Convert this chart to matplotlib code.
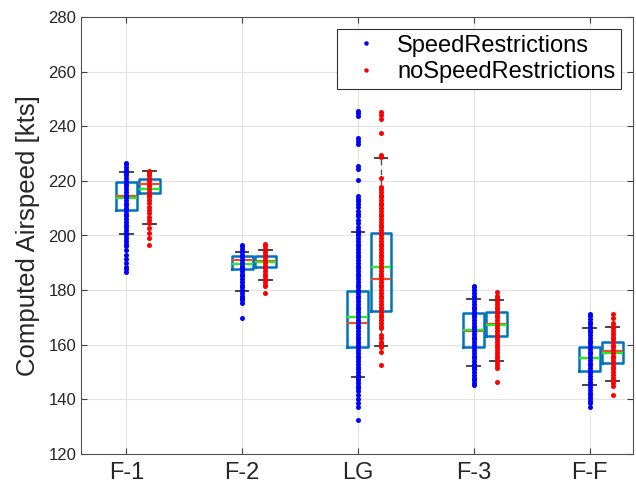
import matplotlib
matplotlib.use("Agg")
import matplotlib.pyplot as plt
import numpy as np

plt.rcParams['font.family'] = ['Liberation Sans', 'DejaVu Sans']

categories = ["F-1", "F-2", "LG", "F-3", "F-F"]
series_names = ["SpeedRestrictions", "noSpeedRestrictions"]

# Box statistics : SpeedRestrictions
sr_q1 = [209.3, 187.9, 159.3, 159.1, 150.5]
sr_q3 = [219.5, 192.5, 179.7, 171.5, 159.3]
sr_med = [214.6, 190.9, 167.9, 165.0, 155.0]
sr_mean = [213.7, 189.7, 170.3, 165.3, 155.2]
sr_lo = [200.6, 179.6, 148.3, 152.3, 145.3]
sr_hi = [223.3, 193.9, 201.2, 176.8, 166.2]

# noSpeedRestrictions
nsr_q1 = [215.7, 188.6, 172.3, 163.2, 153.2]
nsr_q3 = [220.8, 192.5, 201.0, 171.9, 161.1]
nsr_med = [219.0, 190.8, 184.0, 167.5, 157.7]
nsr_mean = [217.0, 190.2, 188.6, 167.1, 157.1]
nsr_lo = [204.2, 183.7, 159.7, 154.2, 146.8]
nsr_hi = [223.5, 194.7, 228.2, 176.4, 166.4]

# Raw points
F1_SR = [226.7, 226, 225, 224, 223, 222, 221, 220, 219, 218, 217, 216, 215, 214,
         213, 212, 211, 210, 209, 208, 207, 206, 205, 204, 203, 202, 201, 200,
         199, 198, 197, 196, 194.7, 192.9, 191.3, 189.8, 188.6, 187.7, 186.7]
F1_NSR = [223.7, 223, 222, 221, 220, 219, 218, 217, 216, 215, 214, 213, 211.8,
          210.6, 209.3, 208.1, 206.9, 205.7, 204.5, 202.6, 200.8, 199.0, 196.6]
F2_SR = [196.5, 196, 195, 194, 193, 192, 191, 190, 189, 188, 187, 186, 185, 184,
         183, 182, 181, 180, 179, 178, 177, 176.4, 175.4, 169.8]
F2_NSR = [196.9, 196, 195, 194, 193, 192, 191, 190, 189, 188, 187, 186, 185, 184,
          183, 182, 181.5, 178.8]
LG_SR = [245.7, 244.7, 243.9, 235.6, 234.6, 233.5, 225.5, 224.3, 220.3,
         214.5, 213.5, 212.5, 211.5, 210.5, 209, 208, 207, 205.5, 204.5, 203,
         202, 201, 200, 199, 198, 197, 196, 195, 194, 193, 192, 191, 190, 189,
         188, 187, 186, 185, 184, 183, 182, 181, 180, 179, 178, 177, 176, 175,
         174, 173, 172, 171, 170, 169, 168, 167, 166, 165, 164, 163, 162, 161,
         160, 159, 158, 157, 156, 155, 154, 153, 152, 151, 150, 149, 148, 147,
         146, 145, 144, 143, 141.5, 140, 138.5, 137.3, 132.4]
LG_NSR = [245.3, 244.1, 242.7, 237.4, 229.5, 228.6, 221.0,
          217.7, 217, 216, 215, 214, 213, 212, 211, 210, 209, 208, 207, 206,
          205, 204, 203, 202, 201, 200, 199, 198, 197, 196, 195, 194, 193, 192,
          191, 190, 189, 188, 187, 186, 185, 184, 183, 182, 181, 180, 179, 178,
          177, 176, 175, 174, 173, 172, 171, 170, 169, 168, 167, 166,
          163.5, 162.3, 161.1, 160.2, 159, 157.5, 152.6]
F3_SR = [181.5, 181, 180, 179, 178, 177, 176, 175, 174, 173, 172, 171, 170, 169,
         168, 167, 166, 165, 164, 163, 162, 161, 160, 159, 158, 157, 156, 155,
         154, 153, 152, 151, 150, 149, 148, 147, 146, 145.3]
F3_NSR = [179.2, 177.8, 177, 176, 175, 174, 173, 172, 171, 170, 169, 168, 167,
          166, 165, 164, 163, 162, 161, 160, 159, 158, 157, 156, 155, 154, 153,
          152, 151.4, 146.5]
FF_SR = [171.3, 170.5, 169.5, 168.5, 167.5, 166.5, 165.5, 164.5, 163.5, 162.5,
         161.5, 160.5, 159.5, 158.5, 157.5, 156.5, 155.5, 154.5, 153.5, 152.5,
         151.5, 150.5, 149.5, 148.5, 147.5, 146.5, 145.5, 144.5, 143.5, 142.5,
         141.5, 140.5, 139.5, 138.5, 137.3]
FF_NSR = [171.3, 169.7, 168.1, 167, 166, 165, 164, 163, 162, 161, 160, 159, 158,
          157, 156, 155, 154, 153, 152, 151, 150, 149, 148, 147, 146, 144.9,
          141.6]

sr_points = [F1_SR, F2_SR, LG_SR, F3_SR, FF_SR]
nsr_points = [F1_NSR, F2_NSR, LG_NSR, F3_NSR, FF_NSR]

fig = plt.figure(figsize=(6.36, 4.94), dpi=100)
ax = fig.add_axes([81/636, 1-454/494, (633-81)/636, (454-17)/494])

pos = np.arange(1, len(categories) + 1)
offset = 0.2
width = 0.18


def stats(q1, q3, med, mean, lo, hi):
    return [dict(q1=a, q3=b, med=c, mean=d, whislo=e, whishi=f, fliers=[])
            for a, b, c, d, e, f in zip(q1, q3, med, mean, lo, hi)]


common = dict(widths=width, showmeans=True, meanline=True, showfliers=False,
              patch_artist=False, capwidths=0.11,
              boxprops=dict(color='#0072BD', linewidth=1.8),
              medianprops=dict(color='#E8502A', linewidth=1.6),
              meanprops=dict(color='#22EE22', linestyle='-', linewidth=1.6),
              whiskerprops=dict(color='#555555', linestyle=(0, (4, 3)), linewidth=1.0),
              capprops=dict(color='#444444', linewidth=1.4))

ax.bxp(stats(sr_q1, sr_q3, sr_med, sr_mean, sr_lo, sr_hi), positions=pos, **common)
ax.bxp(stats(nsr_q1, nsr_q3, nsr_med, nsr_mean, nsr_lo, nsr_hi), positions=pos + offset, **common)

for i, (a, b) in enumerate(zip(sr_points, nsr_points)):
    ax.plot(np.full(len(a), pos[i]), a, linestyle='none', marker='o', ms=3.6,
            mew=0, color='#0000FF', zorder=5,
            label=series_names[0] if i == 0 else None)
    ax.plot(np.full(len(b), pos[i] + offset), b, linestyle='none', marker='o', ms=3.6,
            mew=0, color='#FF0000', zorder=5,
            label=series_names[1] if i == 0 else None)

ax.set_xlim(1 - 45.3/115.8, 5 + (633-589.5)/115.8)
ax.set_ylim(120, 280)
ax.set_yticks(np.arange(120, 281, 20))
ax.set_xticks(pos)
ax.set_xticklabels(categories, fontsize=17)
ax.tick_params(axis='y', labelsize=12)
ax.tick_params(axis='x', pad=6)
ax.tick_params(direction='in', top=True, right=True, length=4, color='#404040',
               labelcolor='#262626')
ax.grid(True, color='#e3e3e3', linewidth=0.8)
ax.set_axisbelow(True)
for s in ax.spines.values():
    s.set_color('#505050')
    s.set_linewidth(0.8)
ax.set_ylabel("Computed Airspeed [kts]", fontsize=18.5, color='#262626', labelpad=6)

leg = ax.legend(loc='upper right', fontsize=17, fancybox=False, framealpha=1,
                edgecolor='#333333', borderpad=0.25, handlelength=2.0,
                handletextpad=0.3, labelspacing=0.2, markerscale=0.9)
leg.get_frame().set_linewidth(0.8)

fig.savefig("out.png", dpi=100)
